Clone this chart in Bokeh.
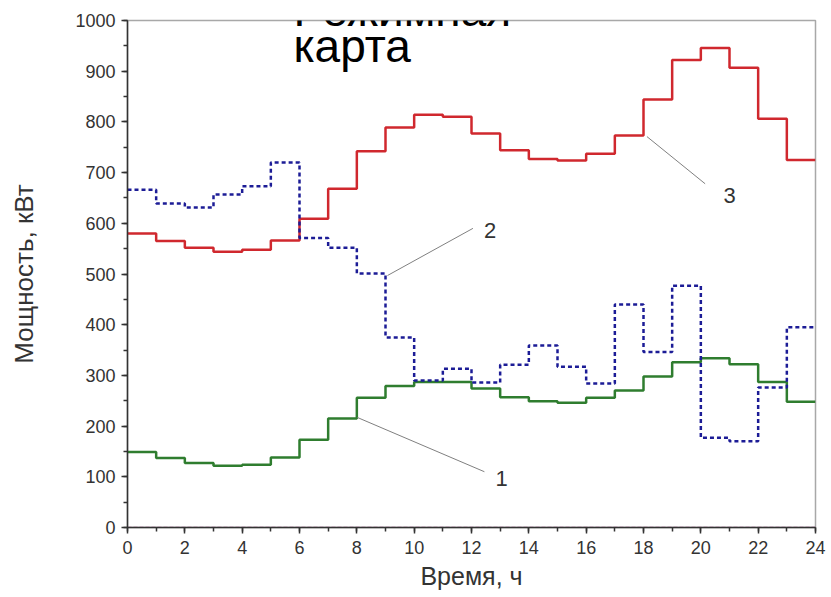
from bokeh.plotting import figure
from bokeh.models import Label, Range1d, FixedTicker
from bokeh.embed import file_html
from bokeh.resources import INLINE

hours = list(range(25))
load1 = [149, 137, 127, 122, 124, 138, 173, 215, 256, 279, 287, 287,
         274, 257, 249, 246, 256, 270, 298, 326, 334, 322, 287, 248]
load2 = [666, 639, 631, 657, 673, 720, 571, 552, 501, 375, 290, 313,
         286, 321, 359, 317, 284, 440, 346, 477, 177, 170, 276, 395]
load3 = [580, 565, 552, 544, 548, 566, 609, 668, 742, 789, 814, 810,
         777, 744, 727, 724, 737, 773, 844, 922, 946, 907, 806, 725]
load0 = [0] * 24

x_ticks = list(range(0, 25, 2))
y_ticks = list(range(0, 1001, 100))

# callouts: (label, start x, start y, end x, end y, text x, text y)
callouts = [
    ("1", 8.02, 217, 12.45, 110, 13.05, 97),
    ("2", 9.07, 497, 12.05, 590, 12.65, 586),
    ("3", 18.12, 771, 20.15, 678, 21.0, 655),
]
title_lines = ["Режимная", "карта"]

p = figure(width=828, height=597, output_backend="svg", toolbar_location=None,
           x_range=Range1d(0, 24), y_range=Range1d(0, 1000),
           min_border_left=127, min_border_right=13, min_border_top=20,
           min_border_bottom=70)
p.background_fill_color = "white"
p.border_fill_color = "white"
p.outline_line_color = "#a8a8a8"
p.outline_line_width = 1.5
p.grid.visible = False

def stepped(vals):
    return vals + [vals[-1]]

p.step(hours, stepped(load0), mode="after", line_color="#d070b0", line_width=1.5, line_dash="4 2")
p.step(hours, stepped(load1), mode="after", line_color="#2f7d2f", line_width=2.5)
p.step(hours, stepped(load3), mode="after", line_color="#d0282e", line_width=2.5)
p.step(hours, stepped(load2), mode="after", line_color="#1c1c96", line_width=2.5, line_dash="4 3")

for name, x0, y0, x1, y1, tx, ty in callouts:
    p.line([x0, x1], [y0, y1], line_color="#808080", line_width=1)
    p.add_layout(Label(x=tx, y=ty, text=name, text_font="Liberation Sans",
                       text_font_size="22px", text_color="#333333",
                       text_align="center", text_baseline="middle"))

for ax in (p.xaxis[0], p.yaxis[0]):
    ax.axis_line_color = "#333333"
    ax.axis_line_width = 1.5
    ax.major_tick_line_color = "#333333"
    ax.minor_tick_line_color = "#333333"
    ax.major_tick_line_width = 1.5
    ax.minor_tick_line_width = 1.5
    ax.major_tick_out = 6
    ax.major_tick_in = 0
    ax.minor_tick_out = 4
    ax.minor_tick_in = 0
    ax.major_label_text_font = "Liberation Sans"
    ax.major_label_text_font_size = "18px"
    ax.major_label_text_color = "#333333"
    ax.axis_label_text_font = "Liberation Sans"
    ax.axis_label_text_font_style = "normal"
    ax.axis_label_text_color = "#333333"

p.xaxis.axis_label_text_font_size = "25px"
p.yaxis.axis_label_text_font_size = "26px"
p.xaxis.ticker = FixedTicker(ticks=x_ticks, minor_ticks=list(range(0, 25)))
p.yaxis.ticker = FixedTicker(ticks=y_ticks, minor_ticks=list(range(0, 1001, 50)))
p.xaxis.axis_label = "Время, ч"
p.yaxis.axis_label = "Мощность, кВт"
p.xaxis.major_label_standoff = 7
p.yaxis.major_label_standoff = 6
p.xaxis.axis_label_standoff = 5
p.yaxis.axis_label_standoff = 33

p.add_layout(Label(x=5.79, y=1020, text=title_lines[0], text_font="Liberation Sans",
                   text_font_size="46px", text_color="black",
                   text_align="left", text_baseline="alphabetic"))
p.add_layout(Label(x=5.79, y=949, text=title_lines[1], text_font="Liberation Sans",
                   text_font_size="46px", text_color="black",
                   text_align="left", text_baseline="alphabetic"))

open("out.html", "w").write(file_html(p, INLINE))
